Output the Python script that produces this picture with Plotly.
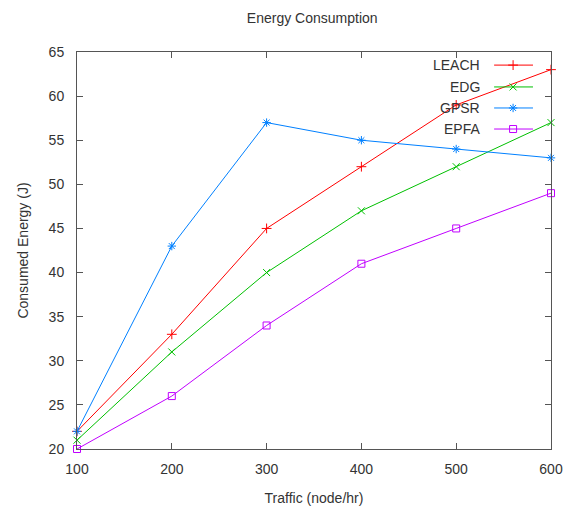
import plotly.graph_objects as go

traffic = [100, 200, 300, 400, 500, 600]
leach = [22, 33, 45, 52, 59, 63]
edg = [21, 31, 40, 47, 52, 57]
gpsr = [22, 43, 57, 55, 54, 53]
epfa = [20, 26, 34, 41, 45, 49]

series = [
    ("LEACH", leach, "#ff0000", "cross-thin-open"),
    ("EDG", edg, "#00c000", "x-thin-open"),
    ("GPSR", gpsr, "#0080ff", "asterisk-open"),
    ("EPFA", epfa, "#c000ff", "square-open"),
]

FONT = "Liberation Sans, Arial, sans-serif"
TXT = "#333"
fig = go.Figure()
for name, vals, col, sym in series:
    fig.add_trace(go.Scatter(
        x=traffic, y=vals, mode="lines+markers", name=name,
        line=dict(color=col, width=1),
        marker=dict(symbol=sym, size=7, color=col, line=dict(color=col, width=1)),
        showlegend=False, cliponaxis=False,
    ))

# custom gnuplot-style key (text left, sample right)
key_y = [0.967, 0.912, 0.859, 0.806]
for (name, vals, col, sym), ky in zip(series, key_y):
    fig.add_trace(go.Scatter(
        x=[0.880, 0.962], y=[ky, ky], mode="lines", xaxis="x2", yaxis="y2",
        line=dict(color=col, width=1), showlegend=False, hoverinfo="skip"))
    fig.add_trace(go.Scatter(
        x=[0.920], y=[ky], mode="markers", xaxis="x2", yaxis="y2",
        marker=dict(symbol=sym, size=7, color=col, line=dict(color=col, width=1)),
        showlegend=False, hoverinfo="skip"))
    fig.add_annotation(x=0.854, y=ky, xref="paper", yref="paper", text=name,
                       showarrow=False, xanchor="right", yanchor="middle",
                       font=dict(family=FONT, size=14, color=TXT))

axis_common = dict(
    showgrid=False, zeroline=False, showline=True, linecolor="#555", linewidth=1,
    mirror="allticks", ticks="inside", ticklen=6, tickcolor="#555",
    tickfont=dict(family=FONT, size=14, color=TXT), automargin=False,
)
fig.update_layout(
    width=575, height=510,
    margin=dict(l=77, r=24, t=52, b=61),
    paper_bgcolor="white", plot_bgcolor="white",
    title=dict(text="Energy Consumption", x=0.543, xanchor="center", y=0.965, yanchor="middle",
               font=dict(family=FONT, size=14, color=TXT)),
    xaxis=dict(range=[100, 600], tickvals=[100, 200, 300, 400, 500, 600],
               ticklabelstandoff=7,
               title=dict(text="Traffic (node/hr)", standoff=17,
                          font=dict(family=FONT, size=14, color=TXT)),
               **axis_common),
    yaxis=dict(range=[20, 65], tickvals=[20, 25, 30, 35, 40, 45, 50, 55, 60, 65],
               ticklabelstandoff=9,
               title=dict(text="Consumed Energy (J)", standoff=16,
                          font=dict(family=FONT, size=14, color=TXT)),
               **axis_common),
    xaxis2=dict(overlaying="x", range=[0, 1], visible=False, fixedrange=True),
    yaxis2=dict(overlaying="y", range=[0, 1], visible=False, fixedrange=True),
    showlegend=False,
)
fig.write_html("out.html")
